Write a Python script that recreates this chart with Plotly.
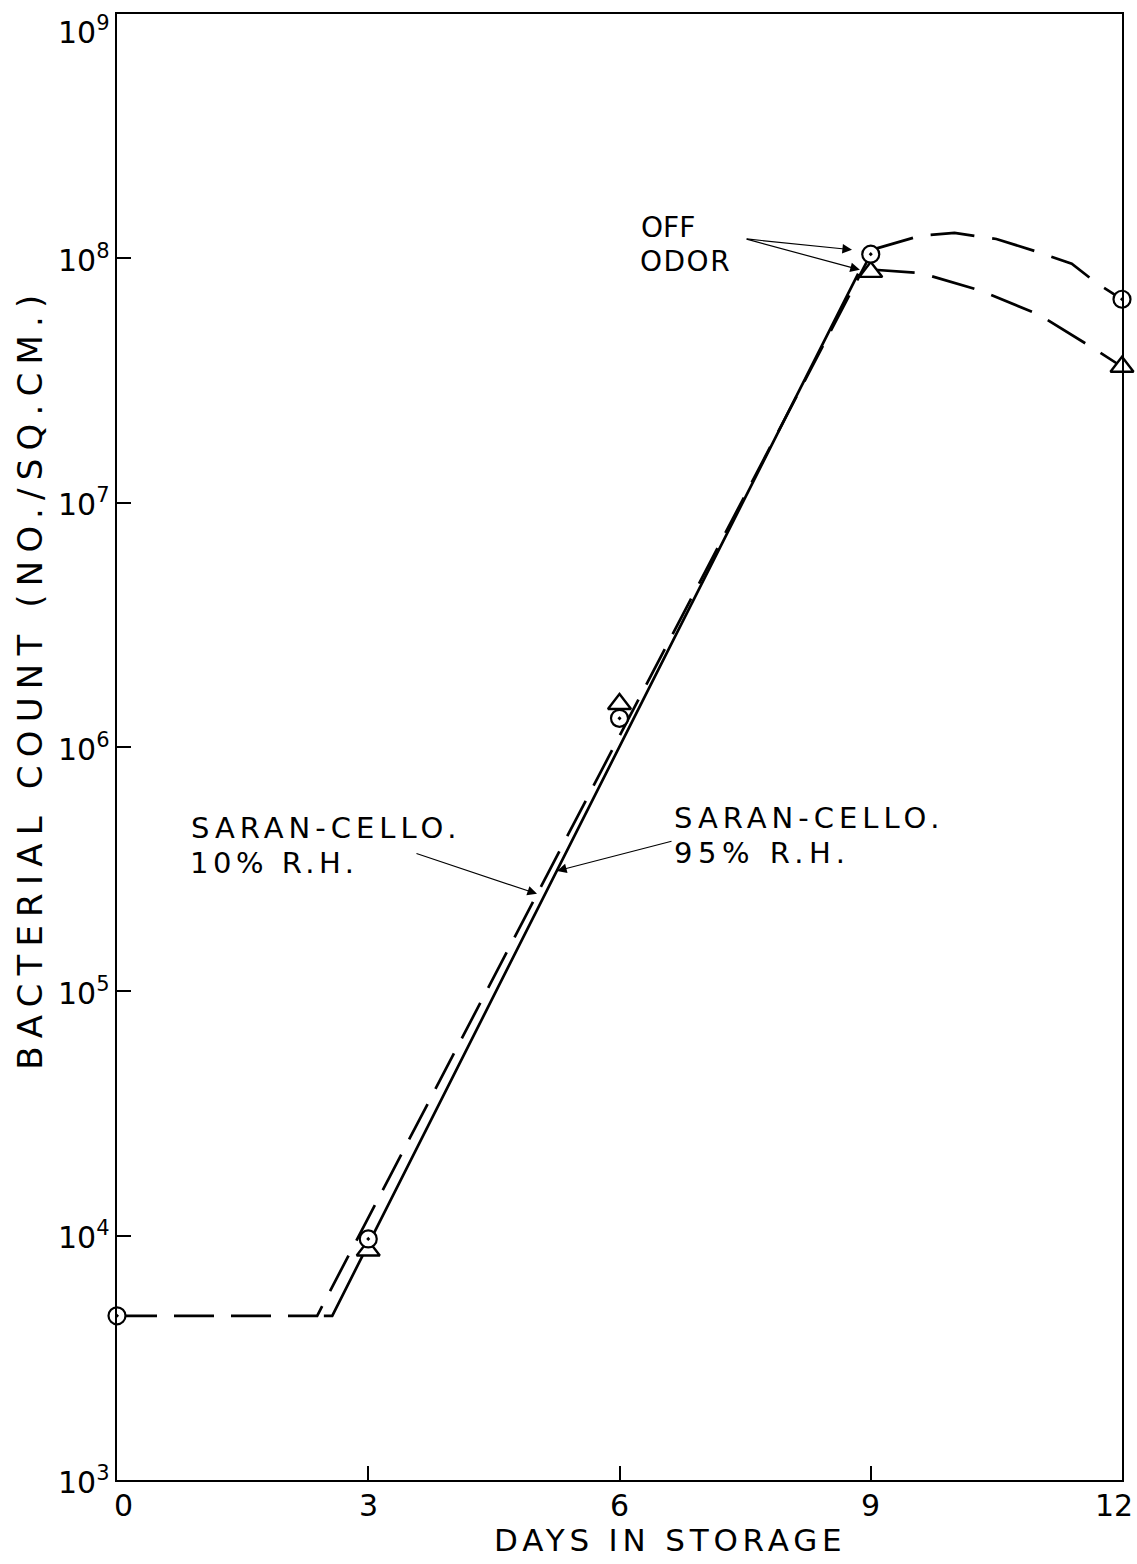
import json
import plotly.graph_objects as go

# ---- measured bacterial counts (no./sq.cm) ----
sample_days = [0, 3, 6, 9, 12]
circle_counts = [4.7e3, 9.7e3, 1.31e6, 1.04e8, 6.8e7]
triangle_days = [3, 6, 9, 12]
triangle_counts = [8.7e3, 1.5e6, 8.8e7, 3.6e7]

# ---- fitted growth lines ----
# Saran-cello, 10% R.H. (dashed)
rise10_days = [0, 2.39, 9.0]
rise10_counts = [4.7e3, 4.7e3, 1.04e8]
# Saran-cello, 95% R.H. (solid)
rise95_days = [2.47, 2.57, 8.85]
rise95_counts = [4.7e3, 4.7e3, 8.65e7]

# ---- decline after off odor ----
decl_upper_days = [9.0, 9.6, 10.0, 10.5, 11.0, 11.4, 11.7, 12.0]
decl_upper_counts = [1.08e8, 1.24e8, 1.27e8, 1.20e8, 1.06e8, 9.5e7, 7.9e7, 6.8e7]
decl_lower_days = [9.0, 9.6, 10.3, 11.0, 11.7, 12.0]
decl_lower_counts = [9.0e7, 8.7e7, 7.4e7, 5.9e7, 4.2e7, 3.6e7]

x_ticks = [0, 3, 6, 9, 12]
y_exponents = [3, 4, 5, 6, 7, 8, 9]

FONT = "DejaVu Sans"
INK = "black"
LW = 2.7

fig = go.Figure()

fig.add_trace(go.Scatter(x=rise10_days, y=rise10_counts, mode="lines",
                         line=dict(color=INK, width=LW, dash="40px,17px")))
fig.add_trace(go.Scatter(x=rise95_days, y=rise95_counts, mode="lines",
                         line=dict(color=INK, width=LW)))
fig.add_trace(go.Scatter(x=decl_upper_days, y=decl_upper_counts, mode="lines",
                         line=dict(color=INK, width=LW, dash="44px,18px")))
fig.add_trace(go.Scatter(x=decl_lower_days, y=decl_lower_counts, mode="lines",
                         line=dict(color=INK, width=LW, dash="44px,18px")))

fig.add_trace(go.Scatter(x=triangle_days, y=triangle_counts, mode="markers",
                         cliponaxis=False,
                         marker=dict(symbol="triangle-up", size=20, color="white",
                                     line=dict(color=INK, width=2.4))))
fig.add_trace(go.Scatter(x=sample_days, y=circle_counts, mode="markers",
                         cliponaxis=False,
                         marker=dict(symbol="circle-dot", size=17, color="white",
                                     line=dict(color=INK, width=2.2))))

axis_common = dict(
    showline=True, linecolor=INK, linewidth=2, mirror=True,
    ticks="inside", ticklen=14, tickwidth=1.6, tickcolor=INK,
    showgrid=False, zeroline=False, showticklabels=False,
)

fig.update_xaxes(range=[0, 12], tickvals=x_ticks, **axis_common)
fig.update_yaxes(type="log", range=[3, 9],
                 tickvals=[10.0 ** e for e in y_exponents], **axis_common)

annotations = []

# tick labels, written as annotations so the end labels stay on the page
x_label_shift = {0: 6, 12: -8}
for v in x_ticks:
    annotations.append(dict(text=str(v), x=v, y=0, xref="x", yref="paper",
                            xanchor="center", yanchor="top", yshift=-6,
                            xshift=x_label_shift.get(v, 0), showarrow=False,
                            font=dict(family=FONT, size=30, color=INK)))
for e in y_exponents:
    annotations.append(dict(text=f"10<sup>{e}</sup>", x=0, y=e, xref="paper", yref="y",
                            xanchor="right", yanchor="middle", xshift=-5,
                            yshift=-16 if e == 9 else 0, showarrow=False,
                            font=dict(family=FONT, size=30, color=INK)))


def label(text, x, y, size=29):
    annotations.append(dict(text=text, x=x, y=y, xref="x", yref="y",
                            xanchor="center", yanchor="middle", showarrow=False,
                            font=dict(family=FONT, size=size, color=INK)))


def arrow(tail, head):
    annotations.append(dict(text="", x=head[0], y=head[1], ax=tail[0], ay=tail[1],
                            xref="x", yref="y", axref="x", ayref="y",
                            showarrow=True, arrowhead=2, arrowsize=1.6,
                            arrowwidth=1.2, arrowcolor=INK, standoff=0))


label("OFF", 6.585, 8.125, size=28)
label("ODOR", 6.790, 7.986, size=28)
arrow((7.50, 8.080), (8.776, 8.035))
arrow((7.50, 8.080), (8.87, 7.953))

label("SARAN-CELLO.", 2.501, 5.669)
label("10% R.H.", 1.875, 5.526)
arrow((3.558, 5.566), (5.015, 5.399))

label("SARAN-CELLO.", 8.257, 5.710)
label("95% R.H.", 7.706, 5.567)
arrow((6.639, 5.616), (5.254, 5.493))

# axis titles
annotations.append(dict(text="DAYS IN STORAGE", x=0.550, y=-0.0409,
                        xref="paper", yref="paper", xanchor="center", yanchor="middle",
                        showarrow=False, font=dict(family=FONT, size=31, color=INK)))
annotations.append(dict(text="BACTERIAL COUNT (NO./SQ.CM.)", x=-0.0866, y=0.547,
                        xref="paper", yref="paper", xanchor="center", yanchor="middle",
                        textangle=-90, showarrow=False,
                        font=dict(family=FONT, size=34, color=INK)))

fig.update_layout(
    width=1137, height=1564,
    margin=dict(l=117, r=15, t=12, b=84),
    paper_bgcolor="white", plot_bgcolor="white",
    showlegend=False,
    annotations=annotations,
)

# wide hand-lettered spacing for the captions
letter_spacing = {
    "SARAN-CELLO.": 5,
    "10% R.H.": 4.5,
    "95% R.H.": 5.5,
    "ODOR": 1.5,
    "DAYS IN STORAGE": 4.8,
    "BACTERIAL COUNT (NO./SQ.CM.)": 8.2,
}
post_js = """
var gd = document.getElementById('{plot_id}');
var spacing = %s;
function applySpacing() {
  gd.querySelectorAll('text.annotation-text').forEach(function (t) {
    var s = spacing[t.textContent];
    if (s !== undefined) { t.style.letterSpacing = s + 'px'; }
  });
}
applySpacing();
gd.on('plotly_afterplot', applySpacing);
""" % json.dumps(letter_spacing)

fig.write_html("out.html", post_script=post_js)
